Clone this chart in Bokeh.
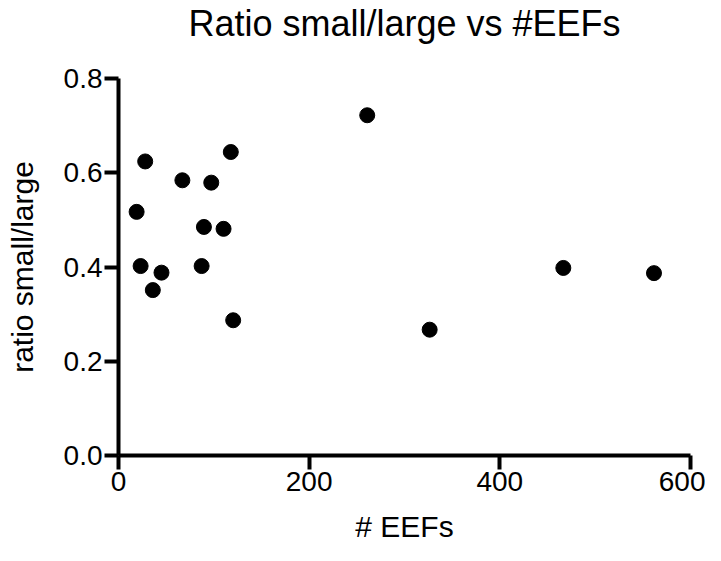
from bokeh.plotting import figure
from bokeh.models import FixedTicker, Range1d
from bokeh.embed import file_html
from bokeh.resources import INLINE

eefs = [28.0, 117.8, 67.0, 97.3, 19.0, 89.6, 110.2, 23.2, 45.1, 87.2, 36.0, 120.3,
        260.9, 466.6, 561.7, 326.4]
ratio = [0.624, 0.644, 0.584, 0.579, 0.517, 0.485, 0.481, 0.402, 0.388, 0.402, 0.351, 0.287,
         0.722, 0.398, 0.387, 0.267]
x_ticks = [0, 200, 400, 600]
y_ticks = [0.0, 0.2, 0.4, 0.6, 0.8]
y_tick_labels = {0.0: "0.0", 0.2: "0.2", 0.4: "0.4", 0.6: "0.6", 0.8: "0.8"}
title_text = "Ratio small/large vs #EEFs"

FONT = "Liberation Sans"

p = figure(width=705, height=545, output_backend="svg", toolbar_location=None,
           x_range=Range1d(0, 600), y_range=Range1d(0, 0.8),
           min_border_left=118, min_border_right=15, min_border_top=74, min_border_bottom=89,
           title=title_text + "\n ")

p.title.text_font = FONT
p.title.text_font_size = "36px"
p.title.text_font_style = "normal"
p.title.align = "center"
p.title.text_color = "black"
p.title.text_line_height = 0.85
p.title.standoff = 0

p.outline_line_color = None
p.xgrid.visible = False
p.ygrid.visible = False
p.background_fill_color = "white"
p.border_fill_color = "white"

p.scatter(eefs, ratio, size=15, color="black", marker="circle")

for ax in (p.xaxis[0], p.yaxis[0]):
    ax.axis_line_width = 4
    ax.axis_line_color = "black"
    ax.major_tick_line_width = 4
    ax.major_tick_line_color = "black"
    ax.major_tick_out = 14
    ax.major_tick_in = 0
    ax.minor_tick_line_color = None
    ax.major_label_text_font = FONT
    ax.major_label_text_font_size = "28px"
    ax.major_label_text_color = "black"
    ax.major_label_standoff = 2
    ax.axis_label_text_font = FONT
    ax.axis_label_text_font_size = "30px"
    ax.axis_label_text_font_style = "normal"
    ax.axis_label_text_color = "black"

p.xaxis.ticker = FixedTicker(ticks=x_ticks)
p.yaxis.ticker = FixedTicker(ticks=y_ticks)
p.yaxis.major_label_overrides = y_tick_labels
p.xaxis.axis_label = "# EEFs"
p.yaxis.axis_label = "ratio small/large"
p.xaxis.axis_label_standoff = 16
p.yaxis.axis_label_standoff = 22

open("out.html", "w").write(file_html(p, INLINE))
